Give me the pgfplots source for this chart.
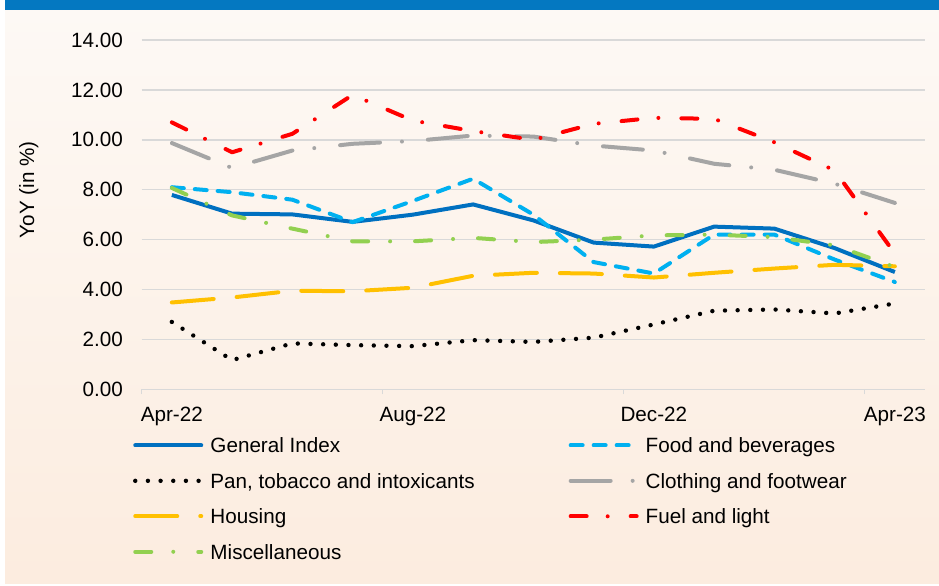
\documentclass[border=0pt]{standalone}
\usepackage{fontspec}
\setmainfont{Liberation Sans}
\usepackage{pgfplots}
\pgfplotsset{compat=1.18}
\definecolor{cGen}{RGB}{0,112,192}
\definecolor{cFood}{RGB}{0,176,240}
\definecolor{cCloth}{RGB}{165,165,165}
\definecolor{cHouse}{RGB}{255,192,0}
\definecolor{cFuel}{RGB}{255,0,0}
\definecolor{cMisc}{RGB}{146,208,80}
\definecolor{gridgray}{RGB}{217,217,217}
\definecolor{bgTop}{RGB}{253,249,245}
\definecolor{bgBot}{RGB}{252,236,223}
\definecolor{banner}{RGB}{4,120,193}
\begin{document}
\begin{tikzpicture}[font=\fontsize{15.5}{18.6}\selectfont]
\fill[white] (-106.3pt,-147.5pt) rectangle (598pt,292pt);
\shade[top color=bgTop, bottom color=bgBot] (-102.5pt,-145.3pt) rectangle (598pt,284.5pt);
\fill[banner] (-102.5pt,284.5pt) rectangle (598pt,292pt);
\begin{axis}[
  scale only axis, width=587.5pt, height=262pt,
  xmin=-0.5, xmax=12.5, ymin=0, ymax=14,
  axis lines*=left,
  x axis line style={draw=gridgray, line width=1.1pt},
  y axis line style={draw=none},
  ytick={0,2,...,14},
  ymajorgrids, grid style={gridgray, line width=1.1pt},
  /pgf/number format/assume math mode=true,
  yticklabel style={/pgf/number format/fixed, /pgf/number format/fixed zerofill, /pgf/number format/precision=2, anchor=east, inner sep=0pt, xshift=-14pt},
  xtick={0,4,8,12}, xticklabels={Apr-22,Aug-22,Dec-22,Apr-23},
  minor xtick={-0.5,3.5,7.5,11.5},
  major tick length=0pt, minor tick length=3.75pt, tick align=outside,
  xtick style={draw=gridgray, line width=1.1pt}, ytick style={draw=none},
  xticklabel style={anchor=base, inner sep=0pt, yshift=-24.3pt},
  ylabel={YoY (in \%)},
  ylabel style={at={(axis description cs:0,0.571)}, anchor=center, yshift=84.8pt},
  no markers,
  legend columns=2,
  legend image code/.code={\draw[#1,line cap=round] (0pt,5.5pt) -- (49.5pt,5.5pt);},
  legend style={draw=none, fill=none, inner sep=0pt, outer sep=0pt, anchor=north west,
    at={([xshift=-6.5pt,yshift=-35.55pt]axis description cs:0,0)},
    nodes={inner sep=0pt, text height=12pt, text depth=3.5pt},
    cells={anchor=base west}, row sep=11.1pt,
    /tikz/every odd column/.append style={column sep=5.25pt},
    /tikz/every even column/.append style={column sep=70.5pt}},
]
\addplot[cGen, line width=3pt, line join=round] coordinates {
(0,7.79) (1,7.04) (2,7.01) (3,6.71) (4,7.00) (5,7.41) (6,6.77) (7,5.88) (8,5.72) (9,6.52) (10,6.44) (11,5.66) (12,4.70)};
\addlegendentry{General Index}
\addplot[cFood, line width=3pt, line join=round, line cap=round, dash pattern=on 9pt off 8.25pt] coordinates {
(0,8.10) (1,7.90) (2,7.60) (3,6.70) (4,7.55) (5,8.44) (6,7.00) (7,5.10) (8,4.64) (9,6.20) (10,6.20) (11,5.20) (12,4.30)};
\addlegendentry{Food and beverages}
\addplot[black, line width=3.3pt, line join=round, line cap=round, dash pattern=on 0pt off 9.5pt] coordinates {
(0,2.70) (1,1.17) (2,1.84) (3,1.77) (4,1.73) (5,1.97) (6,1.90) (7,2.07) (8,2.60) (9,3.15) (10,3.20) (11,3.04) (12,3.44)};
\addlegendentry{Pan, tobacco and intoxicants}
\addplot[cCloth, line width=3pt, line join=round, line cap=round, dash pattern=on 30pt off 16.5pt on 0pt off 19.5pt] coordinates {
(0,9.87) (1,8.87) (2,9.57) (3,9.84) (4,9.95) (5,10.17) (6,10.13) (7,9.77) (8,9.57) (9,9.04) (10,8.80) (11,8.24) (12,7.47)};
\addlegendentry{Clothing and footwear}
\addplot[cHouse, line width=3pt, line join=round, line cap=round, dash pattern=on 31.5pt off 17.25pt] coordinates {
(0,3.48) (1,3.68) (2,3.95) (3,3.93) (4,4.07) (5,4.55) (6,4.67) (7,4.64) (8,4.48) (9,4.67) (10,4.84) (11,4.99) (12,4.93)};
\addlegendentry{Housing}
\addplot[cFuel, line width=3pt, line join=round, line cap=round, dash pattern=on 12pt off 15.75pt on 0pt off 17.25pt] coordinates {
(0,10.70) (1,9.50) (2,10.24) (3,11.80) (4,10.77) (5,10.35) (6,10.00) (7,10.64) (8,10.88) (9,10.84) (10,9.90) (11,8.77) (12,5.44)};
\addlegendentry{Fuel and light}
\addplot[cMisc, line width=3pt, line join=round, line cap=round, dash pattern=on 12pt off 16.5pt on 0pt off 18.75pt] coordinates {
(0,8.07) (1,6.97) (2,6.44) (3,5.93) (4,5.93) (5,6.07) (6,5.90) (7,6.00) (8,6.17) (9,6.20) (10,6.10) (11,5.77) (12,4.90)};
\addlegendentry{Miscellaneous}
\end{axis}
\end{tikzpicture}
\end{document}
